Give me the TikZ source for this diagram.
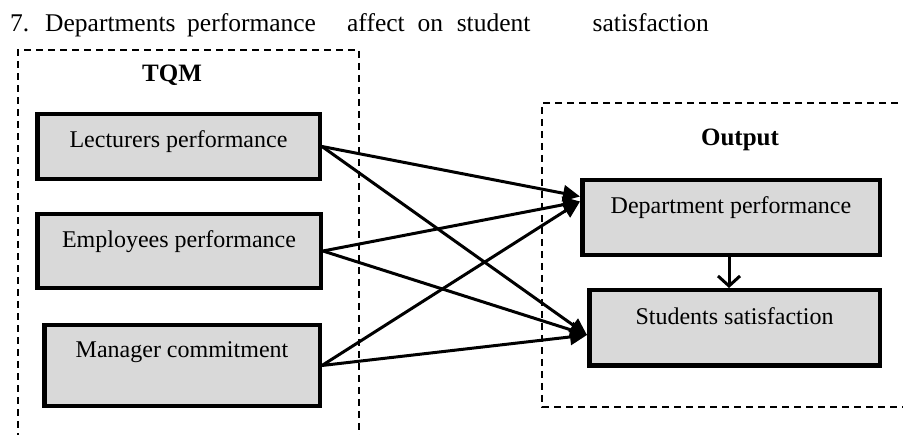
\documentclass[tikz,border=0pt]{standalone}
\usepackage{fontspec}
\setmainfont{Liberation Serif}
\usetikzlibrary{arrows.meta}
\definecolor{boxgray}{RGB}{217,217,217}
\tikzstyle{box} = [rectangle, 
draw=black, 
line width=4.5pt, 
fill=boxgray, 
inner sep=0pt, 
text height=33pt, 
font=\fontsize{24}{28}\selectfont]
\tikzstyle{frame} = [line width=1.4pt, dash pattern=on 7pt off 5pt]
\tikzstyle{heading} = [font=\fontsize{25}{30}\selectfont\bfseries]
\tikzstyle{arrow} = [line width=3pt, -{Triangle[length=17pt,width=16pt]}]
\tikzstyle{vee} = [line width=3pt, -{Straight Barb[length=10pt,width=22pt]}]

\begin{document}
\begin{tikzpicture} [x=1pt, y=-1pt]
    \clip (0,0) rectangle (903,435);
    \node (title) [anchor=base west, inner sep=0pt, font=\fontsize{25.5}{30}\selectfont] at (10,32) {7.\hspace{15.9pt}Departments\hspace{11.7pt}performance\hspace{31.1pt}affect\hspace{13pt}on\hspace{13.5pt}student\hspace{62.3pt}satisfaction};

    % dashed frames
    \draw [frame] (18,440) |- (359,50) -- (359,440);
    \draw [frame] (910,103) -| (542,407) -- (910,407);
    \node (tqm) [heading] at (172,75) {TQM};
    \node (output) [heading] at (740,140) {Output};

    \node (lect) [box, minimum width=282.5pt, text depth=31.75pt] at (178.5,146.5) {Lecturers performance};
    \node (emp) [box, below of=lect, node distance=104.5pt, xshift=0.5pt, minimum width=283.5pt, text depth=40.75pt] {Employees performance};
    \node (man) [box, below of=emp, node distance=114.5pt, xshift=3pt, minimum width=275.5pt, text depth=48pt] {Manager commitment};

    \node (dept) [box, minimum width=297.5pt, text depth=41.75pt] at (731,217.5) {Department performance};
    \node (stud) [box, below of=dept, node distance=110.5pt, xshift=3.5pt, minimum width=290.5pt, text height=34.75pt, text depth=40.75pt] {Students satisfaction};

    \draw [arrow] (lect.east) -- ([yshift=21pt]dept.west);
    \draw [arrow] (lect.east) -- ([yshift=-7pt]stud.west);
    \draw [arrow] (emp.east) -- ([yshift=16pt]dept.west);
    \draw [arrow] (emp.east) -- ([yshift=-7pt]stud.west);
    \draw [arrow] (man.east) -- ([yshift=16pt]dept.west);
    \draw [arrow] (man.east) -- ([yshift=-7pt]stud.west);
    \draw [vee] ([xshift=-2pt]dept.south) -- ([xshift=-2pt]dept.south |- stud.north);

\end{tikzpicture}
\end{document}
